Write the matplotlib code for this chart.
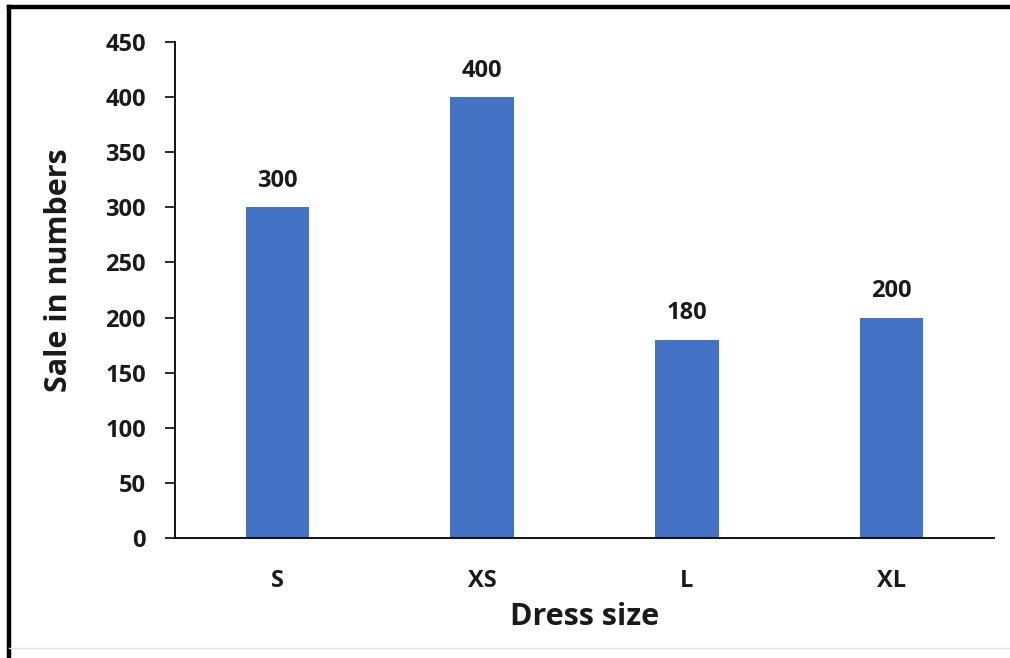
import matplotlib
matplotlib.use("Agg")
import matplotlib.pyplot as plt
from matplotlib.lines import Line2D

categories = ["S", "XS", "L", "XL"]
sales = [300, 400, 180, 200]
yticks = [0, 50, 100, 150, 200, 250, 300, 350, 400, 450]

plt.rcParams['font.family'] = ['Open Sans', 'DejaVu Sans']
plt.rcParams['font.weight'] = 'bold'

fig = plt.figure(figsize=(10.1, 6.58), dpi=100)
ax = fig.add_axes([0.1733, 0.1824, 0.8107, 0.7536])
x = list(range(len(categories)))
ax.bar(x, sales, width=0.31, color="#4472C4")
for xi, v in zip(x, sales):
    ax.text(xi, v + 13, str(v), ha='center', va='bottom', fontsize=17, fontweight='bold', color='#1a1a1a')

ax.set_xlim(-0.5, 3.5)
ax.set_ylim(0, 450)
ax.set_yticks(yticks)
ax.set_xticks(x)
ax.set_xticklabels(categories)
ax.tick_params(axis='y', length=7, width=1.3, labelsize=17, pad=14, colors='#1a1a1a')
ax.tick_params(axis='x', length=0, labelsize=17, pad=22, colors='#1a1a1a')
for lab in ax.get_xticklabels() + ax.get_yticklabels():
    lab.set_fontweight('bold')
ax.spines['top'].set_visible(False)
ax.spines['right'].set_visible(False)
ax.spines['left'].set_linewidth(1.3)
ax.spines['bottom'].set_linewidth(1.3)
ax.set_xlabel("Dress size", fontsize=22, fontweight='bold', labelpad=7, color='#1a1a1a')
ax.set_ylabel("Sale in numbers", fontsize=22, fontweight='bold', color='#1a1a1a')
ax.yaxis.set_label_coords(-0.124, 0.54)

# partial outer frame (top and left visible in the reference)
fig.add_artist(Line2D([0.0085, 1.0], [0.9893, 0.9893], transform=fig.transFigure, color='black', linewidth=3.2))
fig.add_artist(Line2D([0.0085, 0.0085], [0.0, 0.9893], transform=fig.transFigure, color='black', linewidth=3.2))
fig.add_artist(Line2D([0.0085, 1.0], [0.015, 0.015], transform=fig.transFigure, color='#e6e6e6', linewidth=1.0))
fig.savefig("out.png", dpi=100)
